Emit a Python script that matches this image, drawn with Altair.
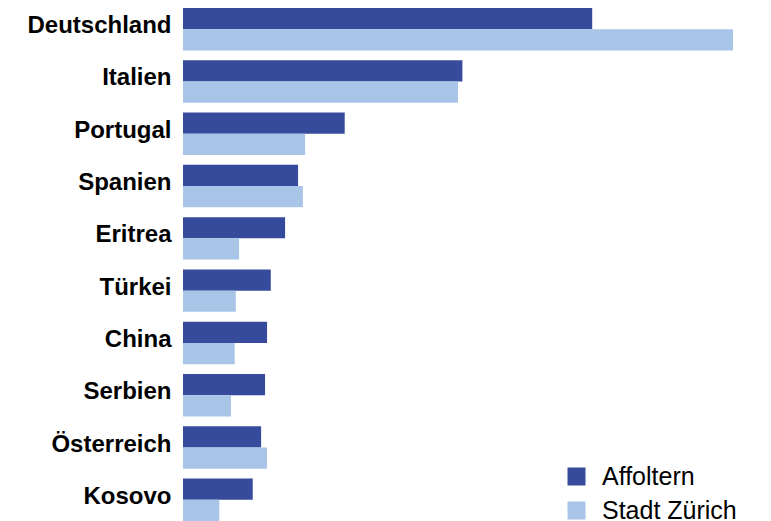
import altair as alt
import pandas as pd

countries = ["Deutschland", "Italien", "Portugal", "Spanien", "Eritrea",
             "Türkei", "China", "Serbien", "Österreich", "Kosovo"]
affoltern = [18.6, 12.7, 7.35, 5.23, 4.64, 3.99, 3.82, 3.73, 3.55, 3.17]
zuerich = [25.0, 12.5, 5.55, 5.45, 2.55, 2.4, 2.35, 2.18, 3.82, 1.65]
series = ["Affoltern", "Stadt Zürich"]
colors = ["#364b9b", "#a8c5e8"]

rows = []
for c, a, z in zip(countries, affoltern, zuerich):
    rows.append({"Land": c, "Gebiet": series[0], "Wert": a})
    rows.append({"Land": c, "Gebiet": series[1], "Wert": z})
df = pd.DataFrame(rows)

chart = alt.Chart(df).mark_bar().encode(
    y=alt.Y("Land:N", sort=countries, title=None,
            scale=alt.Scale(paddingInner=0.1887, paddingOuter=0),
            axis=alt.Axis(ticks=False, domain=False, labelPadding=12,
                          labelFont="Liberation Sans", labelFontWeight="bold",
                          labelFontSize=24, labelColor="#000000",
                          minExtent=175, maxExtent=175, labelOffset=-3)),
    yOffset=alt.YOffset("Gebiet:N", sort=series),
    x=alt.X("Wert:Q", axis=None, scale=alt.Scale(domain=[0, 25], nice=False)),
    color=alt.Color("Gebiet:N", sort=series,
                    scale=alt.Scale(domain=series, range=colors),
                    legend=alt.Legend(title=None, orient="none",
                                      legendX=381, legendY=456,
                                      symbolType="square", symbolSize=324,
                                      symbolStrokeWidth=0,
                                      labelFont="Liberation Sans", labelFontSize=25,
                                      labelColor="#000000", labelOffset=13,
                                      rowPadding=8, padding=0)),
).properties(width=550, height=513, padding=0).configure_view(stroke=None)

chart.save("out.html", embed_options={"renderer": "svg", "actions": False})
